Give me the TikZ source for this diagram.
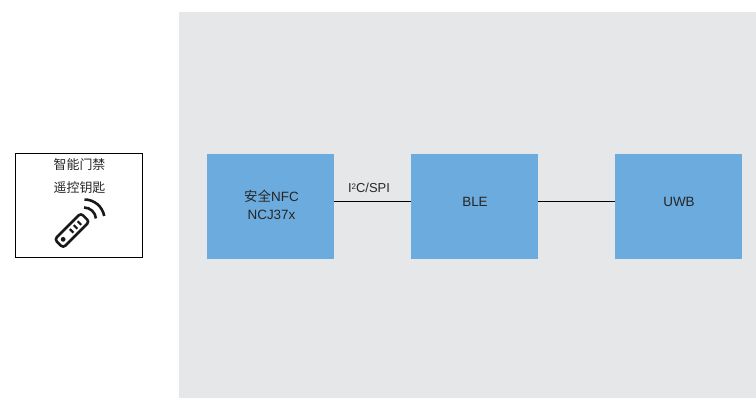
\documentclass[tikz,border=0pt]{standalone}
\usepackage{fontspec}
\setmainfont{Liberation Sans}
\newfontfamily\cjk{Noto Sans CJK SC}
\definecolor{panelgray}{HTML}{E6E7E9}
\definecolor{blockblue}{HTML}{6CABDD}
\tikzset{
  block/.style={fill=blockblue, minimum width=127bp, minimum height=105bp, inner sep=0pt},
  blocktext/.style={align=center, font=\fontsize{13.5}{18}\selectfont, text=black!85},
  keybox/.style={draw=black, line width=0.8pt, minimum width=127bp, minimum height=104bp, inner sep=0pt},
  keytext/.style={font=\cjk\fontsize{13}{17}\selectfont, text=black!85},
  wire/.style={draw=black, line width=1pt}
}
\begin{document}
\begin{tikzpicture}[x=1bp,y=-1bp]
\useasboundingbox (0,0) rectangle (756,398);

\fill [color=panelgray] (179,12) rectangle (756,398);

\node [keybox] (keyfob) at (79,205) {};
\node [keytext] (keyline1) at (79.5,164.5) {智能门禁};
\node [keytext] (keyline2) at (79.5,187.5) {遥控钥匙};

\node [block] (nfc) at (270.5,206.5) {};
\node [block] (ble) at (474.5,206.5) {};
\node [block] (uwb) at (678.5,206.5) {};
\node [blocktext] (nfclabel) at (271.5,205) {{\cjk 安全}NFC\\NCJ37x};
\node [blocktext] (blelabel) at (475,202) {BLE};
\node [blocktext] (uwblabel) at (679,202) {UWB};

\coordinate (nfcout) at (334,201.5);
\coordinate (blein) at (411,201.5);
\coordinate (bleout) at (538,201.5);
\coordinate (uwbin) at (615,201.5);
\draw [wire] (nfcout) -- (blein);
\draw [wire] (bleout) -- (uwbin);
\node [font=\fontsize{13}{15}\selectfont, text=black!85] (buslabel) at (369,188) {I{\fontsize{8}{8}\selectfont\raisebox{3.5pt}{2}}C/SPI};

% remote icon
\begin{scope}[shift={(72,230.5)}, rotate=45, line width=2.6pt, color=black!90]
\draw [rounded corners=3] (-18.5,-6) rectangle (18.5,6);
\fill (-12.5,0) circle (2.4);
\draw [line width=2.2pt] (-0.5,-2.5) -- (-0.5,2.5);
\draw [line width=2.2pt] (5,-2.5) -- (5,2.5);
\draw [line width=2.2pt] (10.5,-2.5) -- (10.5,2.5);
\end{scope}
\draw [line width=2.6pt, color=black!90] (84,207.5) arc (-90:-5:12);
\draw [line width=2.6pt, color=black!90] (84.5,199.5) arc (-90:-10:20);
\end{tikzpicture}
\end{document}
